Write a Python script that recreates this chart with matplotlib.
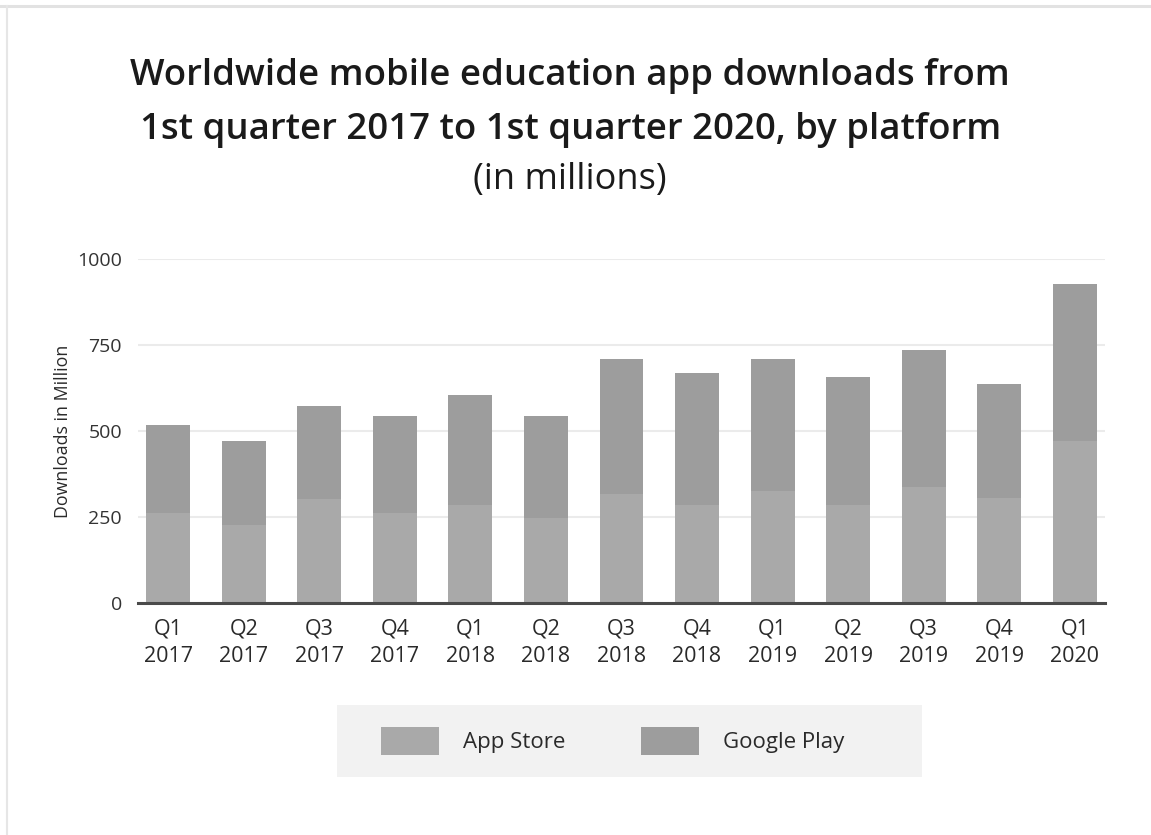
import matplotlib
matplotlib.use("Agg")
import matplotlib.pyplot as plt
from matplotlib.patches import Rectangle
from matplotlib.lines import Line2D

plt.rcParams['font.family'] = ['Open Sans', 'DejaVu Sans']

quarters = ["Q1\n2017", "Q2\n2017", "Q3\n2017", "Q4\n2017",
            "Q1\n2018", "Q2\n2018", "Q3\n2018", "Q4\n2018",
            "Q1\n2019", "Q2\n2019", "Q3\n2019", "Q4\n2019",
            "Q1\n2020"]
app_store = [261, 227, 301, 263, 285, 248, 318, 285, 326, 285, 338, 304, 471]
google_play = [256, 245, 271, 281, 319, 296, 390, 384, 382, 373, 397, 332, 455]
y_ticks = [0, 250, 500, 750, 1000]

W, H = 1151, 835
fig = plt.figure(figsize=(W / 100, H / 100), dpi=100)
fig.patch.set_facecolor("white")

def fx(px):
    return px / W

def fy(py):
    return 1 - py / H

# outer frame lines (top and left)
fig.add_artist(Line2D([0, 1], [fy(5.5), fy(5.5)], color="#e2e2e2", lw=2.2))
fig.add_artist(Line2D([fx(6.5), fx(6.5)], [0, fy(5.5)], color="#e6e6e6", lw=1.5))

ax = fig.add_axes([fx(138), fy(603), fx(1105) - fx(138), fy(259) - fy(603)])
x = list(range(len(quarters)))
c_app = "#a9a9a9"
c_gp = "#9d9d9d"
bars_app = ax.bar(x, app_store, width=0.58, color=c_app, label="App Store", zorder=3)
bars_gp = ax.bar(x, google_play, width=0.58, bottom=app_store, color=c_gp,
                 label="Google Play", zorder=3)

ax.set_xlim(-0.4, len(quarters) - 1 + 0.4)
ax.set_ylim(0, 1000)
ax.set_yticks(y_ticks)
ax.set_yticklabels([str(v) for v in y_ticks])
ax.set_xticks(x)
ax.set_xticklabels(quarters, linespacing=1.42)
ax.tick_params(axis="y", length=0, pad=11.5, labelsize=14, labelcolor="#333333")
ax.tick_params(axis="x", length=0, pad=11, labelsize=15.5, labelcolor="#2a2a2a")
for s in ["top", "right", "left"]:
    ax.spines[s].set_visible(False)
ax.spines["bottom"].set_color("#4a4a4a")
ax.spines["bottom"].set_linewidth(2.2)
ax.spines["bottom"].set_zorder(4)
ax.yaxis.grid(True, color="#ebebeb", lw=1.5, zorder=0)
ax.set_axisbelow(True)
ax.set_facecolor("white")
ax.set_ylabel("Downloads in Million", fontsize=12.8, color="#2a2a2a", labelpad=4)

# title
fig.text(fx(570), fy(76), "Worldwide mobile education app downloads from",
         ha="center", va="center", fontsize=26.3, fontweight=600, color="#1a1a1a")
fig.text(fx(571), fy(130), "1st quarter 2017 to 1st quarter 2020, by platform",
         ha="center", va="center", fontsize=26.3, fontweight=600, color="#1a1a1a")
fig.text(fx(570), fy(180), "(in millions)",
         ha="center", va="center", fontsize=26, color="#1a1a1a")

# legend background
fig.add_artist(Rectangle((fx(337), fy(777)), fx(922) - fx(337), fy(705) - fy(777),
                         transform=fig.transFigure, facecolor="#f2f2f2",
                         edgecolor="none", zorder=0))
leg = fig.legend(handles=[bars_app, bars_gp], labels=["App Store", "Google Play"],
                 loc="center left", bbox_to_anchor=(fx(381), fy(741)),
                 ncol=2, frameon=False, fontsize=16,
                 handlelength=2.6, handleheight=1.5, handletextpad=1.1,
                 columnspacing=3.4, borderpad=0, borderaxespad=0)
for t in leg.get_texts():
    t.set_color("#2a2a2a")

fig.savefig("out.png", dpi=100)
